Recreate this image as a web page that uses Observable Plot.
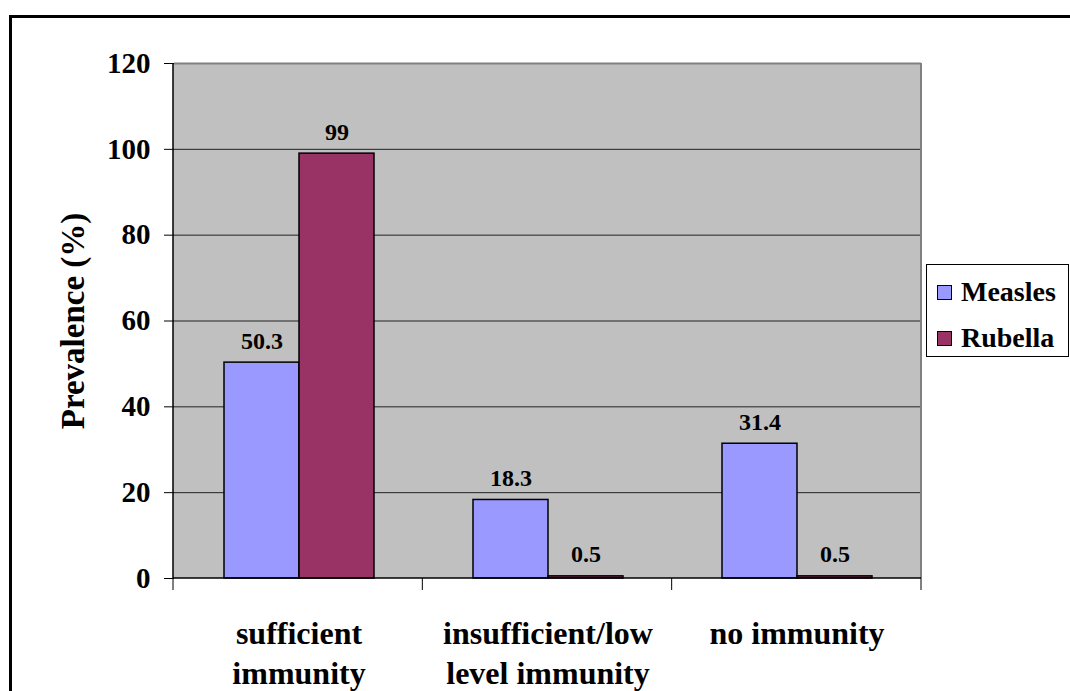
<!DOCTYPE html>
<html><head><meta charset="utf-8">
<script src="https://cdn.jsdelivr.net/npm/d3@7"></script>
<script src="https://cdn.jsdelivr.net/npm/@observablehq/plot@0.6"></script>
<style>
html,body{margin:0;padding:0;background:#fff;overflow:hidden;}
#wrap{position:relative;width:1070px;height:691px;color:#000;overflow:hidden;font-weight:bold;}
#border{position:absolute;left:9px;top:15px;width:1200px;height:900px;border-left:3px solid #000;border-top:3px solid #000;pointer-events:none;}
#chart{position:absolute;left:0;top:0;}
#ylabel{position:absolute;left:73px;top:321px;transform:translate(-50%,-50%) rotate(-90deg);font-size:33px;white-space:nowrap;line-height:1;}
#legend{position:absolute;left:926px;top:264px;width:143px;height:93px;border:1px solid #000;background:#fff;box-sizing:border-box;}
.item{position:absolute;left:10px;height:30px;display:flex;align-items:center;font-size:28px;white-space:nowrap;}
.sw{width:13px;height:13px;border:1.5px solid #000;margin-right:9px;flex:none;}
</style>
</head><body>
<div id="wrap" style="font-family:Tinos,'Times New Roman','Noto Serif',serif">
  <div id="chart"></div>
  <div id="border"></div>
  <div id="ylabel" style="font-family:Tinos,'Times New Roman','Noto Serif',serif">Prevalence (%)</div>
  <div id="legend" style="font-family:Tinos,'Times New Roman','Noto Serif',serif"></div>
</div>
<script>
const categories = ["sufficient immunity", "insufficient/low level immunity", "no immunity"];
const categoryLabels = ["sufficient\nimmunity", "insufficient/low\nlevel immunity", "no immunity"];
const series = ["Measles", "Rubella"];
const seriesColors = ["#9999FF", "#993366"];
const measles = [50.3, 18.3, 31.4];
const rubella = [99, 0.5, 0.5];
const yTicks = [0, 20, 40, 60, 80, 100, 120];

const rows = categories.flatMap((c, i) => [
  {category: c, series: series[0], value: measles[i]},
  {category: c, series: series[1], value: rubella[i]}
]);

const serifFont = "Tinos, 'Times New Roman', 'Noto Serif', serif";

const plot = Plot.plot({
  width: 1070, height: 691,
  marginLeft: 173, marginRight: 149, marginTop: 63, marginBottom: 113,
  style: {fontFamily: serifFont, fontWeight: "bold", fontSize: "29px", background: "transparent", color: "#000", overflow: "visible"},
  fx: {domain: categories, padding: 0, axis: null, label: null},
  x: {domain: series, paddingInner: 0, paddingOuter: 0.66, axis: null, label: null},
  y: {domain: [0, 120], ticks: yTicks, tickSize: 10, tickPadding: 14, label: null, tickFormat: d => String(d)},
  color: {domain: series, range: seriesColors},
  marks: [
    Plot.ruleY(yTicks.filter(t => t > 0 && t < 120), {stroke: "#222", strokeWidth: 1}),
    Plot.ruleY([120], {stroke: "#808080", strokeWidth: 2}),
    Plot.barY(rows, {fx: "category", x: "series", y: "value", fill: "series", stroke: "#000", strokeWidth: 1.5}),
    Plot.text(rows, {fx: "category", x: "series", y: "value", text: d => String(d.value), dy: -14, lineAnchor: "bottom", fontSize: 24, fontWeight: "bold"}),
    Plot.text(categories, {fx: d => d, text: (d, i) => categoryLabels[i], frameAnchor: "bottom", lineAnchor: "top", dy: 37, fontSize: 32, lineHeight: 1.25, fontWeight: "bold"})
  ]
});
document.getElementById("chart").appendChild(plot);

// plot-area background, axis lines, border and category boundary ticks from the plot's own scales
const svg = d3.select(plot.tagName.toLowerCase() === "svg" ? plot : plot.querySelector("svg"));
const fxs = plot.scale("fx");
const ys = plot.scale("y");
const [x0, x1] = fxs.range;
const [yb, yt] = ys.range;
const n = fxs.domain.length;
const step = (x1 - x0) / n;
svg.insert("rect", ":first-child").attr("x", x0).attr("y", yt).attr("width", x1 - x0).attr("height", yb - yt).attr("fill", "#c0c0c0");
const g = svg.append("g");
g.append("line").attr("x1", x1).attr("x2", x1).attr("y1", yt).attr("y2", yb).attr("stroke", "#808080").attr("stroke-width", 2);
g.append("line").attr("x1", x0).attr("x2", x0).attr("y1", yt).attr("y2", yb).attr("stroke", "#000").attr("stroke-width", 1.5);
g.append("line").attr("x1", x0).attr("x2", x1).attr("y1", yb).attr("y2", yb).attr("stroke", "#000").attr("stroke-width", 1.5);
for (let i = 0; i <= n; i++) {
  const x = x0 + i * step;
  g.append("line").attr("x1", x).attr("x2", x).attr("y1", yb).attr("y2", yb + 12).attr("stroke", "#000").attr("stroke-width", 1);
}

// legend
const legend = document.getElementById("legend");
const tops = [12, 58];
series.forEach((s, i) => {
  const item = document.createElement("div");
  item.className = "item";
  item.style.top = tops[i] + "px";
  const sw = document.createElement("div");
  sw.className = "sw";
  sw.style.background = seriesColors[i];
  item.appendChild(sw);
  item.appendChild(document.createTextNode(s));
  legend.appendChild(item);
});

// set the serif face directly on every element
document.querySelectorAll("#wrap, #wrap *").forEach(el => {
  el.style.setProperty("font-family", serifFont, "important");
});
</script>
</body></html>
